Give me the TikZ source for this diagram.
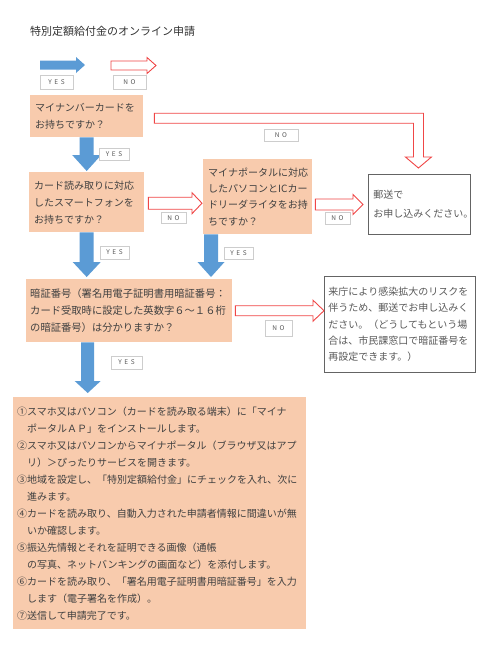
\documentclass[tikz,border=0pt]{standalone}
\usepackage{fontspec}
\setmainfont{Noto Sans CJK JP}
\usetikzlibrary{calc}
\definecolor{peach}{RGB}{248,203,173}
\definecolor{bluearr}{RGB}{91,155,213}
\definecolor{redarr}{RGB}{240,70,70}
\definecolor{txt}{RGB}{64,64,64}
\definecolor{wtxt}{RGB}{89,89,89}
\definecolor{lblgray}{RGB}{205,205,205}
\definecolor{bordergray}{RGB}{100,100,100}
% horizontal block arrow: start, tip, half shaft, half head, head length, style
\newcommand\HBlock[6]{%
  \path[#6] let \p1=(#1), \p2=(#2) in
   (\x1,\y1+#3pt) -- (\x2-#5pt,\y1+#3pt) -- (\x2-#5pt,\y1+#4pt) -- (\x2,\y1)
   -- (\x2-#5pt,\y1-#4pt) -- (\x2-#5pt,\y1-#3pt) -- (\x1,\y1-#3pt) -- cycle;}
% downward block arrow
\newcommand\VBlock[6]{%
  \path[#6] let \p1=(#1), \p2=(#2) in
   (\x1-#3pt,\y1) -- (\x1-#3pt,\y2+#5pt) -- (\x1-#4pt,\y2+#5pt) -- (\x1,\y2)
   -- (\x1+#4pt,\y2+#5pt) -- (\x1+#3pt,\y2+#5pt) -- (\x1+#3pt,\y1) -- cycle;}
% right then down block arrow
\newcommand\LBlock[6]{%
  \path[#6] let \p1=(#1), \p2=(#2) in
   (\x1,\y1+#3pt) -- (\x2+#3pt,\y1+#3pt) -- (\x2+#3pt,\y2+#5pt) -- (\x2+#4pt,\y2+#5pt)
   -- (\x2,\y2) -- (\x2-#4pt,\y2+#5pt) -- (\x2-#3pt,\y2+#5pt) -- (\x2-#3pt,\y1-#3pt)
   -- (\x1,\y1-#3pt) -- cycle;}
\tikzset{
  qbox/.style={fill=peach, draw=none, anchor=north west, align=left,
    inner xsep=5pt, inner ysep=0pt, text=txt, font=\fontsize{10}{17}\selectfont},
  wbox/.style={fill=white, draw=bordergray, line width=0.9pt, anchor=north west, align=left,
    inner xsep=5pt, inner ysep=0pt, text=wtxt, font=\fontsize{10}{16.3}\selectfont},
  lbl/.style={draw=lblgray, fill=white, line width=0.7pt, text=wtxt, inner sep=0pt,
    font=\fontsize{6.5}{6.5}\selectfont},
  bluefill/.style={fill=bluearr, draw=none},
  redline/.style={fill=white, draw=redarr, line width=0.9pt, line join=miter},
}
\newcommand\YES{Y\hspace{2.6pt}E\hspace{2.6pt}S}
\newcommand\NO{N\hspace{2.6pt}O}
\begin{document}
\begin{tikzpicture}[x=1pt,y=-1pt]
\useasboundingbox[fill=white] (0,0) rectangle (499,649);

\node[anchor=west, text=black!80, font=\fontsize{11}{11}\selectfont, inner sep=0pt] (title) at (30,31) {特別定額給付金のオンライン申請};

% legend
\coordinate (lgbs) at (40,65);
\coordinate (lgbe) at (85,65);
\coordinate (lgrs) at (111,65.5);
\coordinate (lgre) at (156,65.5);
\HBlock{lgbs}{lgbe}{4.5}{8}{9}{bluefill}
\HBlock{lgrs}{lgre}{4.5}{8}{9}{redline}
\node[lbl, minimum width=33pt, minimum height=14pt] (lgyes) at (56.5,82) {\YES};
\node[lbl, minimum width=33pt, minimum height=14pt] (lgno) at (129.5,82) {\NO};

% boxes
\node[qbox, minimum width=113pt, minimum height=42pt, text width=103pt] (b1) at (30,95)
  {マイナンバーカードを\\お持ちですか？};
\node[qbox, minimum width=115pt, minimum height=60pt, text width=105pt] (b2) at (29,172)
  {カード読み取りに対応\\したスマートフォンを\\お持ちですか？};
\node[qbox, minimum width=109pt, minimum height=75pt, text width=99pt, font=\fontsize{10}{16.4}\selectfont] (b3) at (203,159)
  {マイナポータルに対応\\したパソコンとICカー\\ドリーダライタをお持\\ちですか？};
\node[wbox, minimum width=102pt, minimum height=60pt, text width=92pt, font=\fontsize{10}{19}\selectfont] (b4) at (368,174)
  {郵送で\\お申し込みください。};
\node[qbox, minimum width=206pt, minimum height=63pt, text width=198pt, inner xsep=4pt, font=\fontsize{10.3}{17}\selectfont] (b5) at (26,279)
  {暗証番号（署名用電子証明書用暗証番号：\\カード受取時に設定した英数字６～１６桁\\の暗証番号）は分かりますか？};
\node[wbox, minimum width=151pt, minimum height=96pt, text width=143pt, inner xsep=4pt] (b6) at (324,276)
  {来庁により感染拡大のリスクを\\伴うため、郵送でお申し込みく\\ださい。（どうしてもという場\\合は、市民課窓口で暗証番号を\\再設定できます。）};
\node[qbox, minimum width=293pt, minimum height=232pt, text width=285pt, inner xsep=4pt] (b7) at (13,397)
  {①スマホ又はパソコン（カードを読み取る端末）に「マイナ\\
   \hspace*{10pt}ポータルＡＰ」をインストールします。\\
   ②スマホ又はパソコンからマイナポータル（ブラウザ又はアプ\\
   \hspace*{10pt}リ）＞ぴったりサービスを開きます。\\
   ③地域を設定し、「特別定額給付金」にチェックを入れ、次に\\
   \hspace*{10pt}進みます。\\
   ④カードを読み取り、自動入力された申請者情報に間違いが無\\
   \hspace*{10pt}いか確認します。\\
   ⑤振込先情報とそれを証明できる画像（通帳\\
   \hspace*{10pt}の写真、ネットバンキングの画面など）を添付します。\\
   ⑥カードを読み取り、「署名用電子証明書用暗証番号」を入力\\
   \hspace*{10pt}します（電子署名を作成）。\\
   ⑦送信して申請完了です。};

% blue YES arrows
\VBlock{b1.south}{$(b2.north -| b1.south)+(0,-1)$}{7}{14.5}{16}{bluefill}
\VBlock{b2.south}{$(b5.north -| b2.south)+(0,-2)$}{7}{14}{15}{bluefill}
\VBlock{$(b3.south west)+(8,0)$}{$(b5.north -| b3.south west)+(8,-2)$}{7}{13.5}{15}{bluefill}
\VBlock{$(b5.south -| b2.south)+(1,0)$}{$(b7.north -| b2.south)+(1,-4)$}{6.5}{13}{12}{bluefill}

% red NO arrows
\LBlock{$(b1.east)+(11,2)$}{$(b4.north)+(-1,-6)$}{5}{13}{11}{redline}
\HBlock{$(b2.east)+(4,1)$}{$(b3.west |- b2.east)+(-1,1)$}{6}{10.5}{10}{redline}
\HBlock{$(b3.east |- b4.west)+(3,0)$}{$(b4.west)+(-5,0)$}{5.5}{10}{10}{redline}
\HBlock{$(b5.east)+(3,0)$}{b6.west |- b5.east}{5}{10.5}{11}{redline}

% labels
\node[lbl, minimum width=34pt, minimum height=12pt] (no1) at (281,135) {\NO};
\node[lbl, minimum width=30pt, minimum height=12pt] (yes1) at (114,154) {\YES};
\node[lbl, minimum width=25pt, minimum height=11pt] (no2) at (173.5,218) {\NO};
\node[lbl, minimum width=29pt, minimum height=13pt] (yes2) at (114.5,252.5) {\YES};
\node[lbl, minimum width=29pt, minimum height=12pt] (yes3) at (238.5,253) {\YES};
\node[lbl, minimum width=25pt, minimum height=12pt] (no3) at (337.5,218) {\NO};
\node[lbl, minimum width=27pt, minimum height=16pt] (no4) at (278.5,328) {\NO};
\node[lbl, minimum width=31pt, minimum height=13pt] (yes4) at (126.5,362.5) {\YES};
\end{tikzpicture}
\end{document}
